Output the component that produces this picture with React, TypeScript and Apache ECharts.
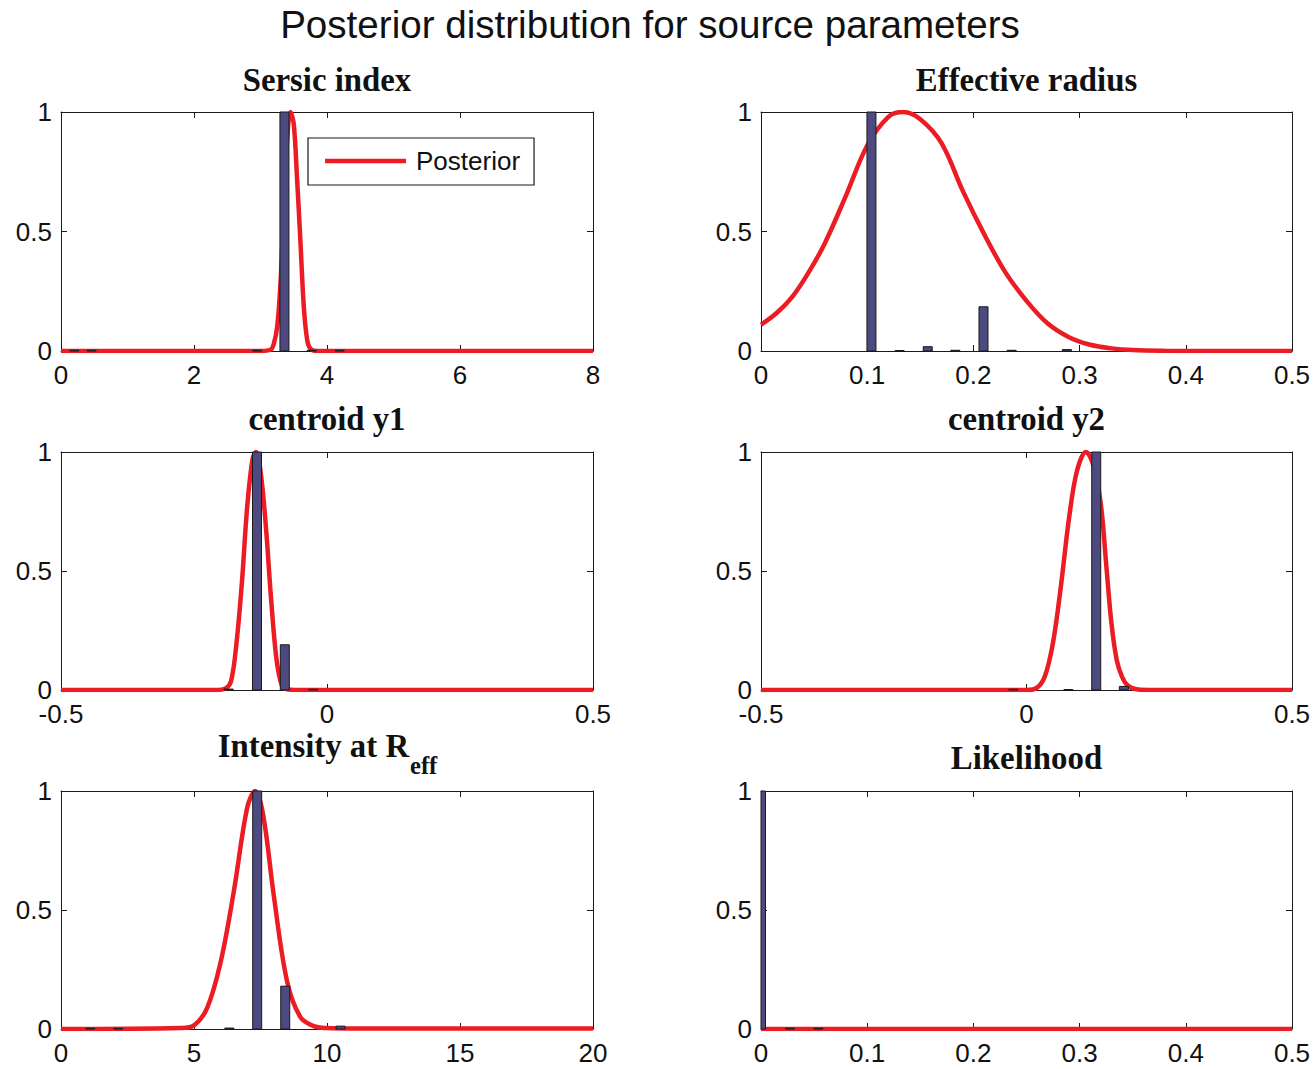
import React, { useEffect, useRef } from 'react';
import * as echarts from 'echarts';

// ---------- Data ----------
// Panel 1: Sersic index
const sersicCurveX = [0, 3.0, 3.15, 3.2, 3.25, 3.3, 3.35, 3.4, 3.45, 3.5, 3.55, 3.6, 3.65, 3.7, 3.75, 3.85, 8];
const sersicCurveY = [0, 0, 0.005, 0.03, 0.1, 0.28, 0.6, 0.88, 1.0, 0.95, 0.72, 0.46, 0.19, 0.05, 0.01, 0, 0];
const sersicBinX = [0.2, 0.46, 2.95, 3.36, 3.77, 4.19];
const sersicBinH = [0.003, 0.003, 0.003, 1, 0.003, 0.003];

// Panel 2: Effective radius
const radiusCurveX = [0, 0.015, 0.03, 0.045, 0.06, 0.08, 0.1, 0.12, 0.134, 0.15, 0.17, 0.19, 0.21, 0.23, 0.25, 0.27, 0.29, 0.31, 0.33, 0.35, 0.38, 0.42, 0.5];
const radiusCurveY = [0.11, 0.16, 0.23, 0.33, 0.45, 0.65, 0.86, 0.98, 1.0, 0.97, 0.87, 0.67, 0.49, 0.33, 0.21, 0.115, 0.058, 0.026, 0.011, 0.004, 0.001, 0, 0];
const radiusBinX = [0.104, 0.1305, 0.157, 0.183, 0.2095, 0.236, 0.288];
const radiusBinH = [1, 0.002, 0.018, 0.003, 0.185, 0.003, 0.006];

// Panel 3: centroid y1
const y1CurveX = [-0.5, -0.21, -0.19, -0.18, -0.17, -0.16, -0.15, -0.14, -0.1335, -0.125, -0.115, -0.105, -0.095, -0.085, -0.075, -0.06, 0.5];
const y1CurveY = [0, 0, 0.008, 0.04, 0.2, 0.45, 0.77, 0.97, 1.0, 0.92, 0.69, 0.38, 0.13, 0.02, 0.003, 0, 0];
const y1BinX = [-0.185, -0.1316, -0.0793, -0.026];
const y1BinH = [0.004, 1, 0.19, 0.003];

// Panel 4: centroid y2
const y2CurveX = [-0.5, 0.0, 0.02, 0.035, 0.05, 0.065, 0.08, 0.095, 0.112, 0.125, 0.14, 0.15, 0.16, 0.17, 0.18, 0.19, 0.205, 0.23, 0.5];
const y2CurveY = [0, 0, 0.01, 0.06, 0.2, 0.44, 0.72, 0.92, 1.0, 0.95, 0.78, 0.53, 0.28, 0.125, 0.055, 0.02, 0.004, 0, 0];
const y2BinX = [-0.025, 0.079, 0.1313, 0.1833];
const y2BinH = [0.003, 0.002, 1, 0.015];

// Panel 5: Intensity at R_eff
const intCurveX = [0, 4.5, 5.0, 5.5, 6.0, 6.5, 7.0, 7.3, 7.6, 8.0, 8.5, 9.0, 9.5, 10, 11, 20];
const intCurveY = [0, 0.004, 0.015, 0.09, 0.28, 0.58, 0.93, 1.0, 0.9, 0.56, 0.2, 0.05, 0.012, 0.004, 0.002, 0.002];
const intBinX = [1.1, 2.15, 6.33, 7.376, 8.43, 10.51];
const intBinH = [0.003, 0.003, 0.004, 1, 0.18, 0.012];

// Panel 6: Likelihood
const likeCurveX = [0, 0.5];
const likeCurveY = [0, 0];
const likeBinX = [0, 0.0273, 0.054];
const likeBinH = [1, 0.003, 0.003];

// Axis ranges [min, max, interval]
const xRanges = [
  [0, 8, 2],
  [0, 0.5, 0.1],
  [-0.5, 0.5, 0.5],
  [-0.5, 0.5, 0.5],
  [0, 20, 5],
  [0, 0.5, 0.1],
];
const yRange = [0, 1, 0.5];

const panelTitles = ['Sersic index', 'Effective radius', 'centroid y1', 'centroid y2', 'Intensity at R', 'Likelihood'];
const subscriptText = 'eff';
const mainTitle = 'Posterior distribution for source parameters';
const legendName = 'Posterior';

const curvesX = [sersicCurveX, radiusCurveX, y1CurveX, y2CurveX, intCurveX, likeCurveX];
const curvesY = [sersicCurveY, radiusCurveY, y1CurveY, y2CurveY, intCurveY, likeCurveY];
const binsX = [sersicBinX, radiusBinX, y1BinX, y2BinX, intBinX, likeBinX];
const binsH = [sersicBinH, radiusBinH, y1BinH, y2BinH, intBinH, likeBinH];

// ---------- Layout / style ----------
const GRID_LEFTS = [61, 761];
const GRID_WIDTHS = [532, 531];
const GRID_TOPS = [112, 452, 791];
const GRID_HEIGHTS = [239, 238, 238];
const TITLE_Y = [80, 419, 758];

const SANS = '"Liberation Sans", Arial, Helvetica, sans-serif';
const SERIF = '"Liberation Serif", "Times New Roman", serif';
const RED = '#ec1c24';
const BAR = '#4c4a7e';
const INK = '#1a1a1a';
const TITLE_FONT = 'bold 32.8px ' + SERIF;
const SUB_FONT = 'bold 24.5px ' + SERIF;

export default function App() {
  const ref = useRef<HTMLDivElement>(null);

  useEffect(() => {
    if (!ref.current) return;
    const chart = echarts.init(ref.current, undefined, { renderer: 'svg' });

    const grids: any[] = [];
    const xAxes: any[] = [];
    const yAxes: any[] = [];
    const series: any[] = [];
    const graphics: any[] = [];

    const axisLine = { show: true, onZero: false, lineStyle: { color: INK, width: 1 } };
    const axisTick = { show: true, inside: true, length: 6, lineStyle: { color: INK, width: 1 } };
    const labelStyle = { fontFamily: SANS, fontSize: 26, color: '#111', showMinLabel: true, showMaxLabel: true, lineHeight: 20 };

    const renderBar = (params: any, api: any) => {
      const x = api.value(0);
      const h = api.value(1);
      const base = api.coord([x, 0]);
      const top = api.coord([x, h]);
      const cs = params.coordSys;
      const rect = echarts.graphic.clipRectByRect(
        { x: base[0] - 4.5, y: top[1], width: 9, height: Math.max(base[1] - top[1], 0.6) },
        { x: cs.x, y: cs.y, width: cs.width, height: cs.height }
      );
      if (!rect) return null;
      return {
        type: 'rect',
        shape: rect,
        style: { fill: BAR, stroke: INK, lineWidth: 1 },
      };
    };

    for (let i = 0; i < 6; i++) {
      const col = i % 2;
      const row = Math.floor(i / 2);
      const [xmin, xmax, xstep] = xRanges[i];
      grids.push({
        left: GRID_LEFTS[col],
        top: GRID_TOPS[row],
        width: GRID_WIDTHS[col],
        height: GRID_HEIGHTS[row],
        containLabel: false,
      });
      xAxes.push({
        type: 'value', gridIndex: i, position: 'bottom', min: xmin, max: xmax, interval: xstep,
        axisLine, axisTick, splitLine: { show: false },
        axisLabel: { ...labelStyle, margin: 14 },
      });
      xAxes.push({
        type: 'value', gridIndex: i, position: 'top', min: xmin, max: xmax, interval: xstep,
        axisLine, axisTick, splitLine: { show: false }, axisLabel: { show: false },
      });
      yAxes.push({
        type: 'value', gridIndex: i, position: 'left', min: yRange[0], max: yRange[1], interval: yRange[2],
        axisLine, axisTick, splitLine: { show: false },
        axisLabel: { ...labelStyle, margin: 9 },
      });
      yAxes.push({
        type: 'value', gridIndex: i, position: 'right', min: yRange[0], max: yRange[1], interval: yRange[2],
        axisLine, axisTick, splitLine: { show: false }, axisLabel: { show: false },
      });
      series.push({
        type: 'line',
        name: legendName,
        xAxisIndex: 2 * i,
        yAxisIndex: 2 * i,
        data: curvesX[i].map((x, k) => [x, curvesY[i][k]]),
        smooth: 0.35,
        symbol: 'none',
        showSymbol: false,
        clip: true,
        lineStyle: { color: RED, width: 4.5 },
        itemStyle: { color: RED },
        z: 2,
      });
      series.push({
        type: 'custom',
        name: 'Samples',
        xAxisIndex: 2 * i,
        yAxisIndex: 2 * i,
        data: binsX[i].map((x, k) => [x, binsH[i][k]]),
        renderItem: renderBar,
        z: 3,
      });

      const cx = GRID_LEFTS[col] + GRID_WIDTHS[col] / 2;
      if (i === 4) {
        const ctx = document.createElement('canvas').getContext('2d');
        let w1 = 191;
        let w2 = 27;
        if (ctx) {
          ctx.font = TITLE_FONT;
          w1 = ctx.measureText(panelTitles[i]).width;
          ctx.font = SUB_FONT;
          w2 = ctx.measureText(subscriptText).width;
        }
        const x0 = cx - (w1 + w2) / 2;
        graphics.push({
          type: 'text', x: x0, y: 746,
          style: { text: panelTitles[i], font: TITLE_FONT, fill: '#111', align: 'left', verticalAlign: 'middle', textAlign: 'left', textVerticalAlign: 'middle' },
        });
        graphics.push({
          type: 'text', x: x0 + w1 + 1, y: 765,
          style: { text: subscriptText, font: SUB_FONT, fill: '#111', align: 'left', verticalAlign: 'middle', textAlign: 'left', textVerticalAlign: 'middle' },
        });
      } else {
        graphics.push({
          type: 'text', x: cx, y: TITLE_Y[row],
          style: { text: panelTitles[i], font: TITLE_FONT, fill: '#111', align: 'center', verticalAlign: 'middle', textAlign: 'center', textVerticalAlign: 'middle' },
        });
      }
    }

    graphics.push({
      type: 'text', x: 650, y: 24,
      style: { text: mainTitle, font: '38.6px ' + SANS, fill: '#111', align: 'center', verticalAlign: 'middle', textAlign: 'center', textVerticalAlign: 'middle' },
    });

    chart.setOption({
      animation: false,
      backgroundColor: '#fff',
      grid: grids,
      xAxis: xAxes,
      yAxis: yAxes,
      series,
      graphic: graphics,
      legend: {
        data: [legendName],
        left: 308,
        top: 138,
        padding: [10, 14, 11, 17],
        icon: 'rect',
        itemWidth: 81,
        itemHeight: 4.5,
        itemStyle: { color: RED, borderWidth: 0 },
        borderColor: INK,
        borderWidth: 1.2,
        backgroundColor: '#fff',
        selectedMode: false,
        textStyle: { fontFamily: SANS, fontSize: 26, color: '#111', padding: [0, 0, 0, 5], lineHeight: 26 },
        z: 10,
      },
    });

    return () => chart.dispose();
  }, []);

  return (
    <div
      ref={ref}
      style={{ position: 'absolute', left: 0, top: 0, width: 1315, height: 1069, background: '#fff' }}
    />
  );
}
